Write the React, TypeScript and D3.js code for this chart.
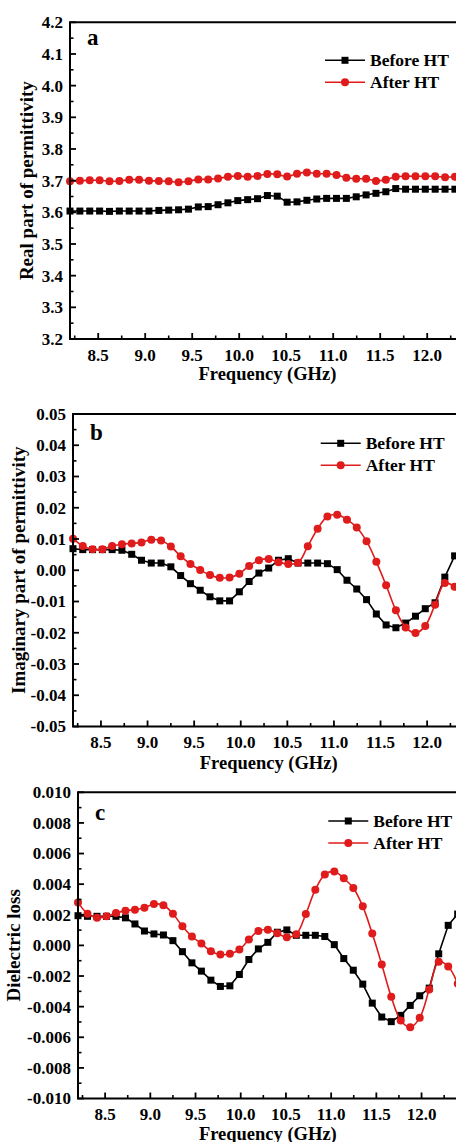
import React from "react";
import * as d3 from "d3";

const FREQ = [8.2, 8.305, 8.41, 8.515, 8.62, 8.725, 8.83, 8.935, 9.04, 9.145, 9.25, 9.355, 9.46, 9.565, 9.67, 9.775, 9.88, 9.985, 10.09, 10.195, 10.3, 10.405, 10.51, 10.615, 10.72, 10.825, 10.93, 11.035, 11.14, 11.245, 11.35, 11.455, 11.56, 11.665, 11.77, 11.875, 11.98, 12.085, 12.19, 12.295, 12.4];

const A_BEFORE = [3.604, 3.604, 3.604, 3.604, 3.603, 3.604, 3.604, 3.604, 3.604, 3.606, 3.607, 3.608, 3.61, 3.617, 3.618, 3.624, 3.63, 3.637, 3.64, 3.643, 3.653, 3.651, 3.632, 3.633, 3.638, 3.642, 3.644, 3.644, 3.644, 3.649, 3.655, 3.66, 3.665, 3.675, 3.673, 3.673, 3.673, 3.673, 3.673, 3.673, 3.673];
const A_AFTER = [3.698, 3.7, 3.701, 3.701, 3.698, 3.699, 3.703, 3.703, 3.7, 3.699, 3.698, 3.695, 3.698, 3.704, 3.704, 3.707, 3.712, 3.715, 3.712, 3.715, 3.721, 3.72, 3.713, 3.722, 3.726, 3.722, 3.722, 3.718, 3.709, 3.706, 3.706, 3.699, 3.703, 3.712, 3.714, 3.714, 3.714, 3.714, 3.711, 3.712, 3.712];

const B_BEFORE = [0.0069, 0.0066, 0.0066, 0.0066, 0.0066, 0.0064, 0.0051, 0.0032, 0.0023, 0.0023, 0.0011, -0.0017, -0.0043, -0.0064, -0.0085, -0.0098, -0.0098, -0.0069, -0.0036, -0.0009, 0.0007, 0.0032, 0.0037, 0.0023, 0.0023, 0.0023, 0.0021, 0.0002, -0.0032, -0.006, -0.0094, -0.014, -0.0175, -0.0184, -0.0169, -0.0147, -0.0123, -0.0104, -0.0022, 0.0046, 0.0075];
const B_AFTER = [0.0101, 0.0078, 0.0067, 0.0067, 0.0078, 0.0083, 0.0086, 0.0089, 0.0098, 0.0095, 0.0076, 0.0045, 0.002, 0.0001, -0.0015, -0.0024, -0.0023, -0.0011, 0.0014, 0.0032, 0.0036, 0.0026, 0.002, 0.0024, 0.0077, 0.0133, 0.0172, 0.0178, 0.0162, 0.0137, 0.0093, 0.0027, -0.0048, -0.0128, -0.0183, -0.0201, -0.0178, -0.011, -0.0041, -0.0053, -0.009];

const C_BEFORE = [0.00194, 0.0019, 0.0019, 0.0019, 0.0019, 0.0018, 0.0014, 0.00094, 0.00075, 0.00068, 0.00031, -0.00041, -0.00114, -0.00168, -0.00227, -0.00268, -0.00264, -0.0019, -0.00092, -0.00023, 0.0002, 0.00086, 0.00101, 0.00066, 0.00066, 0.00066, 0.00058, 0.00005, -0.00086, -0.00162, -0.00253, -0.00377, -0.00468, -0.00498, -0.00457, -0.00392, -0.00329, -0.00279, -0.00055, 0.00131, 0.00205];
const C_AFTER = [0.00281, 0.00207, 0.00181, 0.0019, 0.00212, 0.00227, 0.00233, 0.00246, 0.0027, 0.00262, 0.00207, 0.00125, 0.00058, 0.00012, -0.00038, -0.0006, -0.00055, -0.00027, 0.00038, 0.00094, 0.00103, 0.00079, 0.00053, 0.00073, 0.00205, 0.00364, 0.00463, 0.00483, 0.00438, 0.00375, 0.00255, 0.00077, -0.00125, -0.00336, -0.0049, -0.00534, -0.00473, -0.00288, -0.00107, -0.00138, -0.0025];

const X_TICKS = [8.5, 9.0, 9.5, 10.0, 10.5, 11.0, 11.5, 12.0];
const X_MINOR = [8.25, 8.75, 9.25, 9.75, 10.25, 10.75, 11.25, 11.75, 12.25];

const Y_TICKS_A = [3.2, 3.3, 3.4, 3.5, 3.6, 3.7, 3.8, 3.9, 4.0, 4.1, 4.2];
const Y_TICKS_B = [-0.05, -0.04, -0.03, -0.02, -0.01, 0, 0.01, 0.02, 0.03, 0.04, 0.05];
const Y_TICKS_C = [-0.01, -0.008, -0.006, -0.004, -0.002, 0, 0.002, 0.004, 0.006, 0.008, 0.01];

const SERIES_NAMES = ["Before HT", "After HT"];
const BLACK = "#000000";
const RED = "#e01b1b";
const FONT = "'Liberation Serif', 'Times New Roman', serif";

type PanelProps = {
  letter: string;
  before: number[];
  after: number[];
  yTicks: number[];
  digits: number;
  yTitle: string;
  left: number;
  right: number;
  top: number;
  bottom: number;
  yTitleX: number;
  xTitleY: number;
  legendY: number;
  legendX: number;
  letterY: number;
};

function Panel(p: PanelProps) {
  const x = d3.scaleLinear().domain([8.2, 12.4]).range([p.left, p.right]);
  const yMin = p.yTicks[0];
  const yMax = p.yTicks[p.yTicks.length - 1];
  const y = d3.scaleLinear().domain([yMin, yMax]).range([p.bottom, p.top]);
  const step = p.yTicks[1] - p.yTicks[0];
  const yMinor = p.yTicks.slice(0, -1).map((v) => v + step / 2);

  const lineBefore = d3
    .line<number>()
    .x((_, i) => x(FREQ[i]))
    .y((d) => y(d))
    .curve(d3.curveLinear);
  const lineAfter = d3
    .line<number>()
    .x((_, i) => x(FREQ[i]))
    .y((d) => y(d))
    .curve(d3.curveCatmullRom.alpha(0.5));

  const fmt = (v: number) => {
    const s = v.toFixed(p.digits);
    return s === "-" + (0).toFixed(p.digits) ? (0).toFixed(p.digits) : s;
  };
  const midX = (p.left + p.right) / 2;
  const sq = 7;
  const r = 4;

  return (
    <g>
      <path d={lineBefore(p.before) || ""} fill="none" stroke={BLACK} strokeWidth={1.6} />
      {p.before.map((v, i) => (
        <rect key={"b" + i} x={x(FREQ[i]) - sq / 2} y={y(v) - sq / 2} width={sq} height={sq} fill={BLACK} />
      ))}
      <path d={lineAfter(p.after) || ""} fill="none" stroke={RED} strokeWidth={1.6} />
      {p.after.map((v, i) => (
        <circle key={"a" + i} cx={x(FREQ[i])} cy={y(v)} r={r} fill={RED} />
      ))}

      <line x1={p.left} x2={p.left} y1={p.top} y2={p.bottom} stroke="#000" strokeWidth={2} />
      <line x1={p.left - 1} x2={p.right + 2} y1={p.bottom} y2={p.bottom} stroke="#000" strokeWidth={2} />
      <line x1={p.left - 1} x2={p.right + 2} y1={p.top} y2={p.top} stroke="#000" strokeWidth={2} />

      {p.yTicks.map((v, i) => (
        <g key={"yt" + i}>
          <line x1={p.left} x2={p.left + 6} y1={y(v)} y2={y(v)} stroke="#000" strokeWidth={1.8} />
          <text
            x={p.left - 7}
            y={y(v)}
            dy="0.35em"
            textAnchor="end"
            fontFamily={FONT}
            fontWeight="bold"
            fontSize={17}
          >
            {fmt(v)}
          </text>
        </g>
      ))}
      {yMinor.map((v, i) => (
        <line key={"ym" + i} x1={p.left} x2={p.left + 3.5} y1={y(v)} y2={y(v)} stroke="#000" strokeWidth={1.6} />
      ))}

      {X_TICKS.map((v, i) => (
        <g key={"xt" + i}>
          <line x1={x(v)} x2={x(v)} y1={p.bottom} y2={p.bottom - 6} stroke="#000" strokeWidth={1.8} />
          <text
            x={x(v)}
            y={p.bottom + 21.5}
            textAnchor="middle"
            fontFamily={FONT}
            fontWeight="bold"
            fontSize={17}
          >
            {v.toFixed(1)}
          </text>
        </g>
      ))}
      {X_MINOR.map((v, i) => (
        <line key={"xm" + i} x1={x(v)} x2={x(v)} y1={p.bottom} y2={p.bottom - 3.5} stroke="#000" strokeWidth={1.6} />
      ))}

      <text
        x={midX}
        y={p.xTitleY}
        textAnchor="middle"
        fontFamily={FONT}
        fontWeight="bold"
        fontSize={18.5}
      >
        Frequency (GHz)
      </text>
      <text
        transform={`translate(${p.yTitleX},${(p.top + p.bottom) / 2}) rotate(-90)`}
        textAnchor="middle"
        dominantBaseline="central"
        fontFamily={FONT}
        fontWeight="bold"
        fontSize={19}
      >
        {p.yTitle}
      </text>

      <text x={p.left + 17} y={p.letterY} fontFamily={FONT} fontWeight="bold" fontSize={23}>
        {p.letter}
      </text>

      {SERIES_NAMES.map((name, i) => {
        const ly = p.legendY + i * 22;
        const col = i === 0 ? BLACK : RED;
        const cx = p.legendX + 20;
        return (
          <g key={"lg" + i}>
            <line x1={p.legendX} x2={p.legendX + 40} y1={ly} y2={ly} stroke={col} strokeWidth={1.6} />
            {i === 0 ? (
              <rect x={cx - sq / 2} y={ly - sq / 2} width={sq} height={sq} fill={col} />
            ) : (
              <circle cx={cx} cy={ly} r={r} fill={col} />
            )}
            <text x={p.legendX + 45} y={ly + 6} fontFamily={FONT} fontWeight="bold" fontSize={17.5}>
              {name}
            </text>
          </g>
        );
      })}
    </g>
  );
}

export default function App() {
  return (
    <svg
      width={456}
      height={1142}
      style={{ position: "absolute", left: 0, top: 0, background: "#fff" }}
    >
      <rect x={0} y={0} width={456} height={1142} fill="#fff" />
      <Panel
        letter="a"
        before={A_BEFORE}
        after={A_AFTER}
        yTicks={Y_TICKS_A}
        digits={1}
        yTitle="Real part of permittivity"
        left={70}
        right={464.8}
        top={22.3}
        bottom={339}
        yTitleX={26.5}
        xTitleY={379.5}
        legendY={60.3}
        legendX={325}
        letterY={44.5}
      />
      <Panel
        letter="b"
        before={B_BEFORE}
        after={B_AFTER}
        yTicks={Y_TICKS_B}
        digits={2}
        yTitle="Imaginary part of permittivity"
        left={73}
        right={464.4}
        top={414}
        bottom={726.5}
        yTitleX={18.8}
        xTitleY={768.5}
        legendY={443.3}
        legendX={320.7}
        letterY={440}
      />
      <Panel
        letter="c"
        before={C_BEFORE}
        after={C_AFTER}
        yTicks={Y_TICKS_C}
        digits={3}
        yTitle="Dielectric loss"
        left={78}
        right={457.7}
        top={792.3}
        bottom={1098.5}
        yTitleX={13.7}
        xTitleY={1139.5}
        legendY={821}
        legendX={328.3}
        letterY={819.5}
      />
    </svg>
  );
}
